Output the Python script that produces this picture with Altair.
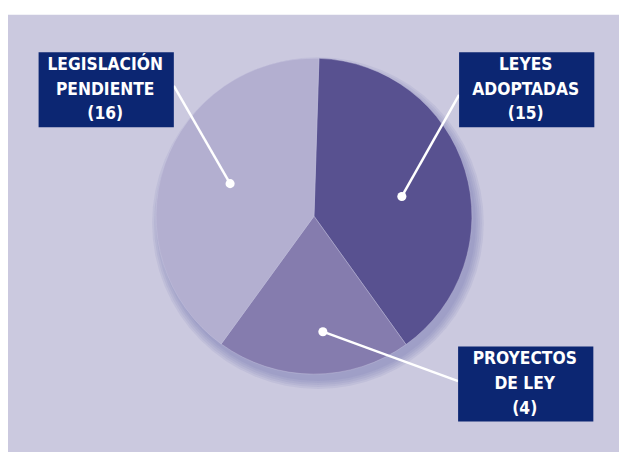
import math
import altair as alt
import pandas as pd

# ---- data ----
categories = ["LEYES ADOPTADAS", "PROYECTOS DE LEY", "LEGISLACIÓN PENDIENTE"]
slice_share = [39.6, 19.9, 40.5]          # share of the circle as drawn (%)
counts = [15, 4, 16]                       # numbers printed in the labels
label_lines = ["LEYES\nADOPTADAS", "PROYECTOS\nDE LEY", "LEGISLACIÓN\nPENDIENTE"]
slice_colors = ["#585190", "#857cae", "#b3afd0"]

# ---- layout constants (chart pixel coordinates) ----
W, H = 619, 447
CX, CY, R = 309, 209, 160
START = math.radians(1.8)
BG = "#cbc9df"
BOX = "#0c2672"
box_x = [457, 456, 31]
box_x2 = [594, 593, 168]
box_y = [42, 340, 42]
box_y2 = [118, 416, 118]
dot_x = [399, 319, 225]
dot_y = [188, 325, 175]
lead_x = [457, 456, 168]
lead_y = [85, 375, 76]

pie_df = pd.DataFrame({"cat": categories, "share": slice_share, "idx": [0, 1, 2]})
ann_df = pd.DataFrame({
    "cat": categories,
    "bx": box_x, "bx2": box_x2, "by": box_y, "by2": box_y2,
    "dx": dot_x, "dy": dot_y, "lx": lead_x, "ly": lead_y,
    "text": [f"{l}\n({c})" for l, c in zip(label_lines, counts)],
})
ann_df["tx"] = (ann_df["bx"] + ann_df["bx2"]) / 2 - 1
ann_df["ty"] = ann_df["by"] + 13

one = pd.DataFrame({"a": [0]})

background = alt.Chart(one).mark_rect(color=BG).encode(
    x=alt.value(0), x2=alt.value(W), y=alt.value(4), y2=alt.value(H)
)

shadows = []
for r in [168, 166, 164, 162, 160]:
    shadows.append(
        alt.Chart(one).mark_arc(color="#6c70ad", opacity=0.11, theta=0, theta2=2 * math.pi,
                                radius=r).encode(x=alt.value(CX + 5), y=alt.value(CY + 6))
    )

pie = alt.Chart(pie_df).mark_arc(radius=R, stroke="#c9c6e0", strokeWidth=0.4).encode(
    x=alt.value(CX + 1), y=alt.value(CY - 1),
    theta=alt.Theta("share:Q", stack=True,
                    scale=alt.Scale(domain=[0, 100], range=[START, START + 2 * math.pi])),
    color=alt.Color("cat:N", scale=alt.Scale(domain=categories, range=slice_colors), legend=None),
    order=alt.Order("idx:Q"),
)

leaders = alt.Chart(ann_df).mark_rule(color="white", strokeWidth=2.5).encode(
    x=alt.X("dx:Q", scale=None), y=alt.Y("dy:Q", scale=None),
    x2="lx:Q", y2="ly:Q",
)
dots = alt.Chart(ann_df).mark_circle(color="white", opacity=1, size=85).encode(
    x=alt.X("dx:Q", scale=None), y=alt.Y("dy:Q", scale=None)
)
boxes = alt.Chart(ann_df).mark_rect(color=BOX).encode(
    x=alt.X("bx:Q", scale=None), x2="bx2:Q",
    y=alt.Y("by:Q", scale=None), y2="by2:Q",
)
texts = alt.Chart(ann_df).mark_text(
    color="white", font="Liberation Sans Narrow, DejaVu Sans Condensed, sans-serif",
    fontWeight="bold", fontSize=17.5, lineHeight=25, lineBreak="\n",
    align="center", baseline="middle",
).encode(
    x=alt.X("tx:Q", scale=None), y=alt.Y("ty:Q", scale=None), text="text:N"
)

chart = alt.layer(background, *shadows, pie, leaders, dots, boxes, texts).properties(
    width=W, height=H, autosize=alt.AutoSizeParams(type="none"), padding=0,
    background="white",
).configure_view(stroke=None)

chart.save("out.html", embed_options={"renderer": "svg", "actions": False})
